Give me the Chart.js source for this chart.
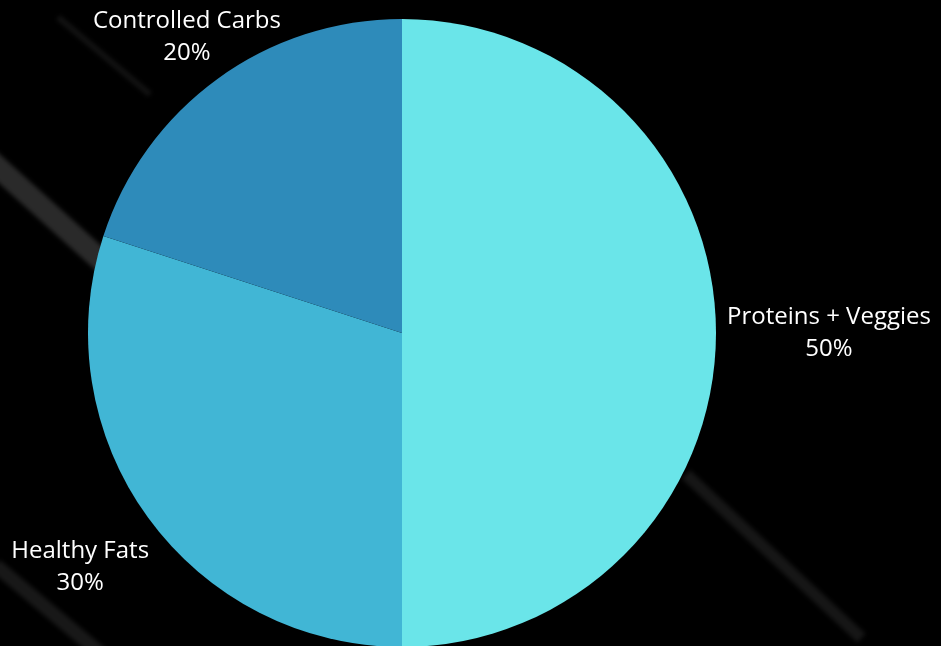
<!DOCTYPE html>
<html>
<head>
<meta charset="utf-8">
<script src="https://cdn.jsdelivr.net/npm/chart.js@4/dist/chart.umd.min.js"></script>
<style>
  html, body { margin: 0; padding: 0; background: #000; }
  body { width: 941px; height: 646px; overflow: hidden; position: relative; background: #000; }
  .streak { position: absolute; background: rgba(120,120,120,0.35); filter: blur(2px); transform-origin: 0 0; }
  #wrap { position: absolute; left: 0; top: 0; width: 941px; height: 646px; }
</style>
</head>
<body>
<div class="streak" style="left:-5px;top:150px;width:170px;height:22px;transform:rotate(42deg);"></div>
<div class="streak" style="left:60px;top:15px;width:120px;height:6px;transform:rotate(40deg);background:rgba(120,120,120,0.15)"></div>
<div class="streak" style="left:690px;top:470px;width:240px;height:12px;transform:rotate(43deg);background:rgba(120,120,120,0.18)"></div>
<div class="streak" style="left:0px;top:560px;width:140px;height:14px;transform:rotate(40deg);background:rgba(120,120,120,0.2)"></div>
<div id="wrap"><canvas id="c" width="941" height="646"></canvas></div>
<script>
const categories = ["Proteins + Veggies", "Healthy Fats", "Controlled Carbs"];
const shares = [50, 30, 20];
const sliceColors = ["#6ae5e9", "#41b6d5", "#2e8bba"];

const outsideLabels = {
  id: 'outsideLabels',
  afterDatasetsDraw(chart) {
    const ctx = chart.ctx;
    const meta = chart.getDatasetMeta(0);
    const W = chart.width, H = chart.height;
    const margin = 8, offset = 11, lineH = 32;
    ctx.save();
    ctx.font = '24px "Open Sans", "Noto Sans", sans-serif';
    ctx.fillStyle = '#ffffff';
    ctx.textAlign = 'center';
    ctx.textBaseline = 'middle';
    meta.data.forEach((arc, i) => {
      const p = arc.getProps(['x', 'y', 'startAngle', 'endAngle', 'outerRadius'], true);
      const mid = (p.startAngle + p.endAngle) / 2;
      const cx = Math.cos(mid), cy = Math.sin(mid);
      const lines = [categories[i], shares[i] + '%'];
      const w = Math.max(...lines.map(l => ctx.measureText(l).width));
      const h = lines.length * lineH - 6;
      let t = p.outerRadius + offset + Math.abs(cx) * w / 2 + Math.abs(cy) * h / 2;
      const lims = [];
      if (cx > 0) lims.push((W - margin - w / 2 - p.x) / cx);
      if (cx < 0) lims.push((margin + w / 2 - p.x) / cx);
      if (cy > 0) lims.push((H - margin - h / 2 - p.y) / cy);
      if (cy < 0) lims.push((margin + h / 2 - p.y) / cy);
      lims.forEach(l => { if (l < t) t = l; });
      const lx = p.x + cx * t, ly = p.y + cy * t;
      lines.forEach((l, k) => {
        ctx.fillText(l, lx, ly + (k - (lines.length - 1) / 2) * lineH);
      });
    });
    ctx.restore();
  }
};

new Chart(document.getElementById('c'), {
  type: 'pie',
  data: {
    labels: categories,
    datasets: [{
      data: shares,
      backgroundColor: sliceColors,
      borderWidth: 0,
      radius: 314
    }]
  },
  options: {
    responsive: false,
    animation: false,
    layout: { padding: { left: 0, right: 137, top: 20, bottom: 0 } },
    plugins: {
      legend: { display: false },
      tooltip: { enabled: false }
    }
  },
  plugins: [outsideLabels]
});
</script>
</body>
</html>
